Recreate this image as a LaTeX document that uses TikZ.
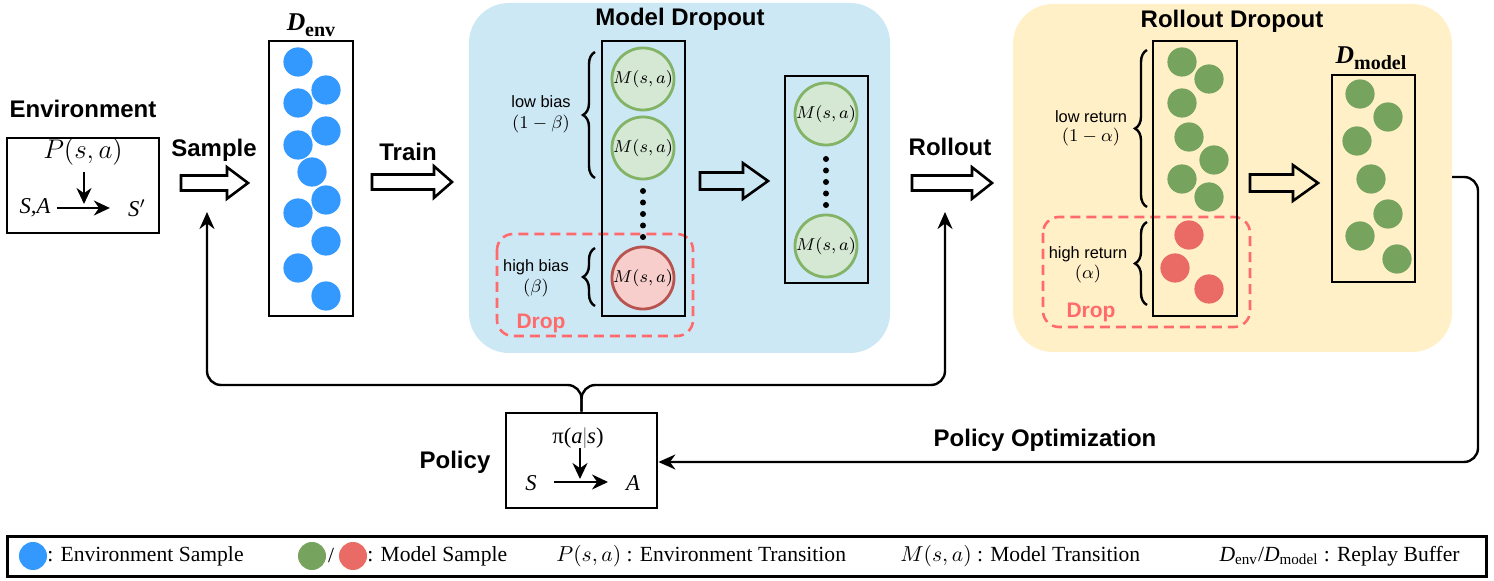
\RequirePackage{fix-cm}
\documentclass[tikz,border=0pt]{standalone}
\usepackage[no-math]{fontspec}
\setmainfont{Liberation Serif}
\setsansfont{Liberation Sans}
\usetikzlibrary{arrows.meta,decorations.pathreplacing,calc}
\definecolor{envblue}{HTML}{3399FF}
\definecolor{mdbg}{HTML}{CDE8F5}
\definecolor{rdbg}{HTML}{FFF0C8}
\definecolor{gdot}{HTML}{76A35E}
\definecolor{rdot}{HTML}{EA6B66}
\definecolor{gfill}{HTML}{D5E8D4}
\definecolor{gline}{HTML}{82B366}
\definecolor{rfill}{HTML}{F8CECC}
\definecolor{rline}{HTML}{B85450}
\definecolor{dropc}{HTML}{FF6B6B}
\newcommand\TitleF{\sffamily\bfseries\fontsize{12}{14}\selectfont}
\newcommand\SmallF{\sffamily\fontsize{8.2}{10}\selectfont}
\newcommand\DropF{\sffamily\bfseries\fontsize{10.5}{12}\selectfont}
\newcommand\LegF{\rmfamily\fontsize{10.8}{13}\selectfont}
\newcommand\BoxF{\rmfamily\itshape\fontsize{11.3}{13}\selectfont}
\newcommand\blockarrow[5]{% x1, x2, yc, headbase, shaft half
  \draw[line width=1.3pt, line join=miter] (#1,#3-#5) -- (#4,#3-#5) -- (#4,#3-2.1*#5) -- (#2,#3) -- (#4,#3+2.1*#5) -- (#4,#3+#5) -- (#1,#3+#5) -- cycle;}
\begin{document}
\begin{tikzpicture}[x=0.5pt,y=-0.5pt,
  bx/.style={draw=black, line width=1.4pt},
  conn/.style={line width=1.2pt, -{Stealth[length=8.5pt,width=7.5pt]}},
  inarrow/.style={line width=1.2pt, -{Stealth[length=8pt,width=7.5pt]}},
  lbl/.style={font=\TitleF, inner sep=1pt},
  sml/.style={font=\SmallF, inner sep=0pt, align=center},
  gcirc/.style={circle, draw=gline, fill=gfill, line width=1.4pt, minimum size=31pt, inner sep=0pt, font=\fontsize{8.6}{9}\selectfont},
  rcirc/.style={circle, draw=rline, fill=rfill, line width=1.4pt, minimum size=31pt, inner sep=0pt, font=\fontsize{8.6}{9}\selectfont},
  dropbox/.style={draw=dropc, line width=1.3pt, dash pattern=on 5pt off 3pt, rounded corners=8pt},
  brc/.style={decorate, decoration={brace, amplitude=6pt}, line width=1.2pt},
  legtext/.style={font=\LegF, inner sep=0pt, anchor=west}
]
\useasboundingbox (0,0) rectangle (1494,581);

% ---------- Environment ----------
\node[lbl] (envlbl) at (83,109) {Environment};
\draw[bx] (7,138) rectangle (159,233);
\node[inner sep=3pt, font=\fontsize{13.5}{15}\selectfont] (Pn) at (83,152) {$P(s,a)$};
\node[inner sep=3pt, font=\BoxF] (SA) at (35,208) {S,A};
\node[inner sep=3pt, font=\BoxF] (Sp) at (137,208) {S$'$};
\draw[inarrow, shorten >=6pt] (SA.east) -- (Sp.west);
\draw[inarrow, shorten >=1.5pt] (Pn.south -| 84,0) -- (84,207);

\node[lbl] (samplelbl) at (214,150) {Sample};
\blockarrow{181}{248}{183}{227}{7.5}

% ---------- D_env ----------
\node[inner sep=0pt] (denvlbl) at (311,25) {\fontsize{12.8}{14}\selectfont\bfseries\itshape D\raisebox{-3pt}{\upshape\fontsize{10}{11}\selectfont env}};
\node[bx, minimum width=42pt, minimum height=137.5pt, inner sep=0pt] (denv) at (311,178.5) {};
\foreach \px/\py in {298/62, 326/90, 298/103, 326/131, 298/145, 312/172, 326/200, 298/213, 326/241, 298/268, 326/296}
  \fill[envblue] (\px,\py) circle (7.3pt);

\node[lbl] (trainlbl) at (408,152) {Train};
\blockarrow{372}{452}{182}{434}{7.5}

% ---------- Model Dropout ----------
\fill[mdbg, rounded corners=20pt] (469,3) rectangle (890,353);
\node[lbl] (mdtitle) at (680,19) {Model Dropout};
\draw[dropbox] (497,234) rectangle (693,336);
\node[bx, minimum width=41.5pt, minimum height=137.5pt, inner sep=0pt] (mcolA) at (643.5,178.5) {};
\node[gcirc] (mA1) at (643,79) {$M(s,a)$};
\node[gcirc] (mA2) at (643,148) {$M(s,a)$};
\node[rcirc] (mA3) at (643,278) {$M(s,a)$};
\foreach \py in {191,202.5,214,225.5,237} \fill (643,\py) circle (1.5pt);
\draw[brc] (595,178) -- (595,52);
\draw[brc] (595,306) -- (595,248);
\node[sml] (lowb) at (541,102) {low bias};
\node[sml, font=\fontsize{9}{10}\selectfont] (lowbv) at (541,124) {$(1-\beta)$};
\node[sml] (highb) at (536,267) {high bias};
\node[sml, font=\fontsize{9}{10}\selectfont] (highbv) at (536,288) {$(\beta)$};
\node[font=\DropF, text=dropc, inner sep=0pt] (drop1) at (541,323) {Drop};
\blockarrow{700}{768}{181}{743}{8.5}
\node[bx, minimum width=41.5pt, minimum height=103.5pt, inner sep=0pt] (mcolB) at (826.5,179.5) {};
\node[gcirc] (mB1) at (826,114) {$M(s,a)$};
\node[gcirc] (mB2) at (826,246) {$M(s,a)$};
\foreach \py in {159,170.5,182,193.5,205} \fill (826,\py) circle (1.5pt);

% ---------- Rollout ----------
\node[lbl] (rolllbl) at (950,147) {Rollout};
\blockarrow{912}{992}{183}{972}{7.5}

% ---------- Rollout Dropout ----------
\fill[rdbg, rounded corners=20pt] (1013,4) rectangle (1452,352);
\node[lbl] (rdtitle) at (1232,21) {Rollout Dropout};
\draw[dropbox] (1043,217) rectangle (1250,327);
\node[bx, minimum width=42pt, minimum height=137.5pt, inner sep=0pt] (rcol) at (1195,178.5) {};
\foreach \px/\py in {1182/62, 1209/79, 1182/103, 1189/137, 1214/160, 1182/179, 1209/197}
  \fill[gdot] (\px,\py) circle (7.3pt);
\foreach \px/\py in {1189/235, 1175/268, 1209/289}
  \fill[rdot] (\px,\py) circle (7.3pt);
\draw[brc] (1147,207) -- (1147,50);
\draw[brc] (1147,305) -- (1147,222);
\node[sml] (lowr) at (1091,117) {low return};
\node[sml, font=\fontsize{9}{10}\selectfont] (lowrv) at (1091,137) {$(1-\alpha)$};
\node[sml] (highr) at (1088,254) {high return};
\node[sml, font=\fontsize{9}{10}\selectfont] (highrv) at (1088,274) {$(\alpha)$};
\node[font=\DropF, text=dropc, inner sep=0pt] (drop2) at (1091,312) {Drop};
\blockarrow{1250}{1318}{183}{1293}{8.5}
\node[inner sep=0pt] (dmodlbl) at (1371,58) {\fontsize{12.8}{14}\selectfont\bfseries\itshape D\raisebox{-3pt}{\upshape\fontsize{10}{11}\selectfont model}};
\node[bx, minimum width=41.5pt, minimum height=103.5pt, inner sep=0pt] (dmod) at (1373.5,178.5) {};
\foreach \px/\py in {1360/94, 1388/117, 1357/141, 1371/179, 1388/214, 1360/236, 1397/259}
  \fill[gdot] (\px,\py) circle (7.3pt);

% ---------- Policy ----------
\node[bx, minimum width=75.5pt, minimum height=47.5pt, inner sep=0pt] (policy) at (581.5,460.5) {};
\node[lbl] (policylbl) at (455,462) {Policy};
\node[inner sep=3pt, font=\rmfamily\fontsize{11.3}{13}\selectfont] (pin) at (578,438) {π(\textit{a}{\color{gray}|}\textit{s})};
\node[inner sep=3pt, font=\BoxF] (pS) at (531,483) {S};
\node[inner sep=3pt, font=\BoxF] (pA) at (633,483) {A};
\draw[inarrow] (554,482) -- (608,482);
\draw[inarrow, shorten >=1.5pt] (580,448) -- (580,482);

% ---------- feedback connectors ----------
\coordinate (sampletip) at (207,212);
\coordinate (rollouttip) at (945,212);
\draw[conn, rounded corners=7pt] (policy.north) -- (581.5,385) -- (207,385) -- (sampletip);
\draw[conn, rounded corners=7pt] (policy.north) -- (581.5,385) -- (945,385) -- (rollouttip);
\coordinate (postart) at (1452,177);
\draw[conn, rounded corners=7pt] (postart) -- (1478,177) -- (1478,462) -- (policy.east |- 0,462);
\node[lbl] (polopt) at (1045,440) {Policy Optimization};

% ---------- Legend ----------
\draw[line width=1.5pt] (7,537) rectangle (1486,577);
\fill[envblue] (33,556) circle (7pt);
\node[legtext] (lg1) at (47,556) {: Environment Sample};
\fill[gdot] (312,556) circle (7pt);
\node[font=\LegF, inner sep=0pt] (lgslash) at (331,555) {/};
\fill[rdot] (353,556) circle (7pt);
\node[legtext] (lg2) at (367,556) {: Model Sample};
\node[legtext] (lg3) at (556,556) {$P(s,a)$ : Environment Transition};
\node[legtext] (lg4) at (900,556) {$M(s,a)$ : Model Transition};
\node[font=\LegF, inner sep=0pt, anchor=east] (lg5) at (1460,556) {\textit{D}\textsubscript{env}/\textit{D}\textsubscript{model} : Replay Buffer};
\end{tikzpicture}
\end{document}
